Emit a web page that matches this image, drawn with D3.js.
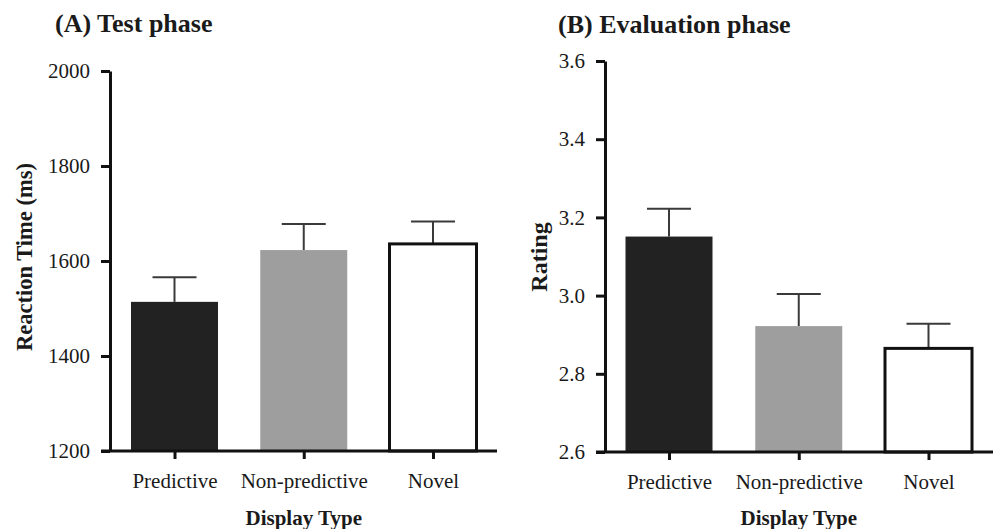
<!DOCTYPE html>
<html>
<head>
<meta charset="utf-8">
<script src="https://cdn.jsdelivr.net/npm/d3@7"></script>
<style>
  body { margin: 0; background: #fff; }
  text { font-family: "Liberation Serif", "Times New Roman", serif; fill: #1a1a1a; }
</style>
</head>
<body>
<div id="container"></div>
<script>
// data
const categories = ["Predictive", "Non-predictive", "Novel"];
const rtMeans = [1514, 1623, 1636];
const rtErrTop = [1566, 1678, 1683];
const ratingMeans = [3.151, 2.922, 2.865];
const ratingErrTop = [3.222, 3.004, 2.928];
const rtTicks = [1200, 1400, 1600, 1800, 2000];
const ratingTicks = [2.6, 2.8, 3.0, 3.2, 3.4, 3.6];
const fills = ["#222222", "#9e9e9e", "#ffffff"];

const width = 993, height = 529;
const svg = d3.select("#container").append("svg")
    .attr("width", width).attr("height", height);

function panel(o) {
  const y = d3.scaleLinear().domain(o.domain).range([o.yBottom, o.yTop]);
  const x = d3.scalePoint().domain(categories).range(o.xCenters);
  const g = svg.append("g");
  const barW = 87, capW = 44;

  // error bars (upward only)
  g.append("g").attr("stroke", "#3a3a3a").attr("stroke-width", 2)
    .selectAll("g").data(categories).join("g")
    .each(function(c, i) {
      const s = d3.select(this);
      s.append("line").attr("x1", x(c)).attr("x2", x(c))
        .attr("y1", y(o.means[i])).attr("y2", y(o.errTop[i]));
      s.append("line").attr("x1", x(c) - capW / 2).attr("x2", x(c) + capW / 2)
        .attr("y1", y(o.errTop[i])).attr("y2", y(o.errTop[i]));
    });

  // bars
  g.append("g").selectAll("rect").data(categories).join("rect")
    .attr("x", c => x(c) - barW / 2)
    .attr("width", barW)
    .attr("y", (c, i) => y(o.means[i]))
    .attr("height", (c, i) => y(o.domain[0]) - y(o.means[i]))
    .attr("fill", (c, i) => fills[i])
    .attr("stroke", (c, i) => i == 2 ? "#111" : "none")
    .attr("stroke-width", 3);

  // y axis
  const ya = g.append("g").attr("transform", `translate(${o.yAxisX},0)`)
    .call(d3.axisLeft(y).tickValues(o.ticks).tickFormat(o.fmt).tickSize(9).tickSizeOuter(0).tickPadding(11))
    .attr("font-family", "Liberation Serif").attr("font-size", 21);
  ya.select(".domain").attr("stroke", "#111").attr("stroke-width", 3);
  ya.selectAll(".tick line").attr("stroke", "#111").attr("stroke-width", 3);
  ya.selectAll(".tick text").attr("fill", "#1a1a1a");

  // x axis
  const xa = g.append("g").attr("transform", `translate(0,${o.yBottom})`)
    .call(d3.axisBottom(x).tickSize(8).tickSizeOuter(0).tickPadding(14))
    .attr("font-family", "Liberation Serif").attr("font-size", 21);
  xa.select(".domain").attr("d", `M${o.yAxisX - 9},0H${o.xAxisEnd}`)
    .attr("stroke", "#111").attr("stroke-width", 3);
  xa.selectAll(".tick line").attr("stroke", "#111").attr("stroke-width", 3);
  xa.selectAll(".tick text").attr("fill", "#1a1a1a");

  // axis titles
  g.append("text").attr("x", x(categories[1])).attr("y", 525)
    .attr("text-anchor", "middle").attr("font-weight", "bold").attr("font-size", 21)
    .text("Display Type");
  g.append("text")
    .attr("transform", `translate(${o.yTitleX},${o.yTitleY}) rotate(-90)`)
    .attr("text-anchor", "middle").attr("font-weight", "bold").attr("font-size", o.yTitleSize)
    .text(o.yTitle);
  g.append("text").attr("x", o.titleX).attr("y", o.titleY)
    .attr("font-weight", "bold").attr("font-size", 26)
    .text(o.title);
}

panel({
  domain: [1200, 2000], yBottom: 451, yTop: 71, xCenters: [174.5, 433],
  means: rtMeans, errTop: rtErrTop, ticks: rtTicks, fmt: d3.format("d"),
  yAxisX: 110, xAxisEnd: 497, yTitleX: 32, yTitleY: 257, yTitleSize: 22.5,
  yTitle: "Reaction Time (ms)",
  title: "(A) Test phase", titleX: 55, titleY: 32
});

panel({
  domain: [2.6, 3.6], yBottom: 452, yTop: 61, xCenters: [669, 928.5],
  means: ratingMeans, errTop: ratingErrTop, ticks: ratingTicks, fmt: d3.format(".1f"),
  yAxisX: 605, xAxisEnd: 993, yTitleX: 547, yTitleY: 257, yTitleSize: 24,
  yTitle: "Rating",
  title: "(B) Evaluation phase", titleX: 558, titleY: 33
});
</script>
</body>
</html>
